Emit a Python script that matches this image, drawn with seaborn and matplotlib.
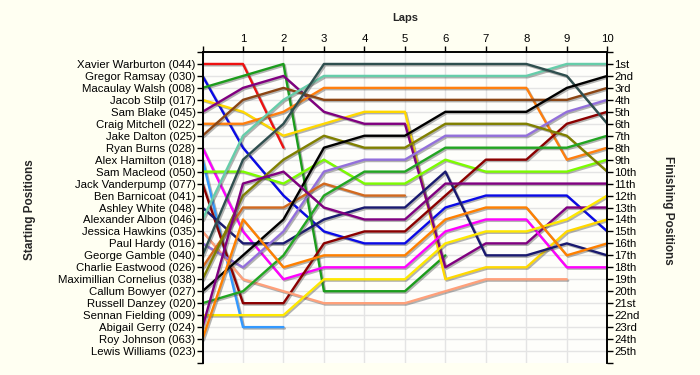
import matplotlib
matplotlib.use("Agg")
import matplotlib.pyplot as plt
import matplotlib.patheffects as pe
import pandas as pd
import seaborn as sns

# Starting grid (top to bottom)
drivers = ['Xavier Warburton (044)', 'Gregor Ramsay (030)', 'Macaulay Walsh (008)',
           'Jacob Stilp (017)', 'Sam Blake (045)', 'Craig Mitchell (022)',
           'Jake Dalton (025)', 'Ryan Burns (028)', 'Alex Hamilton (018)',
           'Sam Macleod (050)', 'Jack Vanderpump (077)', 'Ben Barnicoat (041)',
           'Ashley White (048)', 'Alexander Albon (046)', 'Jessica Hawkins (035)',
           'Paul Hardy (016)', 'George Gamble (040)', 'Charlie Eastwood (026)',
           'Maximillian Cornelius (038)', 'Callum Bowyer (027)', 'Russell Danzey (020)',
           'Sennan Fielding (009)', 'Abigail Gerry (024)', 'Roy Johnson (063)',
           'Lewis Williams (023)']

# position at lap 0..n (list stops when the driver retired)
positions = [
    [1, 1, 8],
    [2, 8, 12, 15, 16, 16, 13, 12, 12, 12, 15],
    [3, 2, 1, 20, 20, 20, 17],
    [4, 5, 7, 6, 5, 5, 19, 18, 18, 15, 14],
    [5, 3, 2, 5, 6, 6, 18, 16, 16, 13, 13],
    [6, 6, 5, 3, 3, 3, 3, 3, 3, 9, 8],
    [7, 4, 3, 4, 4, 4, 4, 4, 4, 4, 3],
    [8, 15, 19, 18, 18, 18, 15, 14, 14, 18, 18],
    [9, 23, 23],
    [10, 10, 11, 9, 11, 11, 9, 10, 10, 10, 9],
    [11, 21, 21, 16, 15, 15, 12, 9, 9, 6, 5],
    [],
    [13, 16, 16, 14, 13, 13, 10, 17, 17, 16, 17],
    [14, 7, 4, 2, 2, 2, 2, 2, 2, 1, 1],
    [15, 19, 20, 21, 21, 21, 20, 19, 19, 19],
    [16, 18, 15, 10, 9, 9, 7, 7, 7, 5, 4],
    [17, 9, 6, 1, 1, 1, 1, 1, 1, 2, 6],
    [18, 13, 13, 11, 12, 12],
    [19, 12, 9, 7, 8, 8, 6, 6, 6, 7, 10],
    [20, 17, 14, 8, 7, 7, 5, 5, 5, 3, 2],
    [21, 20, 17, 12, 10, 10, 8, 8, 8, 8, 7],
    [22, 22, 22, 19, 19, 19, 16, 15, 15, 14, 12],
    [23, 11, 10, 13, 14, 14, 11, 11, 11, 11, 11],
    [24, 14, 18, 17, 17, 17, 14, 13, 13, 17, 16],
    [],
]

colors = ['#ee1111', '#0a0ae6', '#1c9c1c', '#ffd800', '#800080', '#ff7f0e',
          '#8b4513', '#ff00ff', '#3399ff', '#7cfc00', '#8b0000', '#999999',
          '#191970', '#66cdaa', '#ffa07a', '#9370db', '#2f4f4f', '#d2691e',
          '#808000', '#000000', '#22a622', '#ffe800', '#800080', '#ff8000',
          '#999999']

laps = list(range(0, 11))
finish_labels = ['1st', '2nd', '3rd'] + [f'{i}th' for i in range(4, 21)] + \
    ['21st', '22nd', '23rd', '24th', '25th']

rows = []
for name, pos in zip(drivers, positions):
    for lap, p in zip(laps, pos):
        rows.append({'driver': name, 'lap': lap, 'pos': p})
df = pd.DataFrame(rows)
drawn = [d for d, p in zip(drivers, positions) if p]
palette = {d: c for d, c in zip(drivers, colors)}

sns.set_style('white')
plt.rcParams['font.family'] = ['Liberation Sans', 'DejaVu Sans']

fig = plt.figure(figsize=(7, 3.75), dpi=100, facecolor='#fffff2')
ax = fig.add_axes([202.5 / 700, 12 / 375, 404.8 / 700, 311 / 375])
ax.set_facecolor('#fefefb')

# light grid behind the lines
ax.vlines(laps, 0, 26, color='#e4e4e4', linewidth=1, zorder=0)
ax.hlines(range(1, 26), 0, 10, color='#e4e4e4', linewidth=1, zorder=0)

sns.lineplot(data=df, x='lap', y='pos', hue='driver', hue_order=drawn,
             palette=palette, units='driver', estimator=None, sort=False,
             linewidth=1.7, legend=False, ax=ax)
for ln in ax.lines:
    ln.set_path_effects([pe.SimpleLineShadow(offset=(1.0, -1.0), shadow_color='#444444', alpha=0.4),
                         pe.Normal()])
    ln.set_zorder(2)

ax.set_xlim(0, 10)
ax.set_ylim(26, 0)
ax.set_xticks(laps)
ax.set_xticklabels([''] + [str(i) for i in laps[1:]])
ax.xaxis.tick_top()
ax.set_yticks(range(1, 26))
ax.set_yticklabels(drivers)
ax.set_yticks([0, 26], minor=True)

ax2 = ax.twinx()
ax2.set_ylim(26, 0)
ax2.set_yticks(range(1, 26))
ax2.set_yticklabels(finish_labels)
ax2.set_yticks([0, 26], minor=True)

for a in (ax, ax2):
    a.tick_params(axis='both', which='both', direction='out', length=4, width=1,
                  labelsize=8.2, pad=1, colors='black')
    a.spines['bottom'].set_visible(False)
    for s in ('top', 'left', 'right'):
        a.spines[s].set_color('black')
        a.spines[s].set_linewidth(1.2)
ax.tick_params(axis='x', length=4, width=1, pad=2, top=True, bottom=False)
ax.set_xlabel('')
ax.set_ylabel('')

fig.text(405 / 700, 1 - 18 / 375, 'Laps', ha='center', va='center',
         fontsize=8, fontweight='bold')
fig.text(30 / 700, 1 - 210 / 375, 'Starting Positions', ha='center', va='center',
         rotation=90, fontsize=8.5, fontweight='bold')
fig.text(668 / 700, 1 - 210 / 375, 'Finishing Positions', ha='center', va='center',
         rotation=-90, fontsize=8.5, fontweight='bold')

fig.savefig('out.png', dpi=100, facecolor=fig.get_facecolor())
